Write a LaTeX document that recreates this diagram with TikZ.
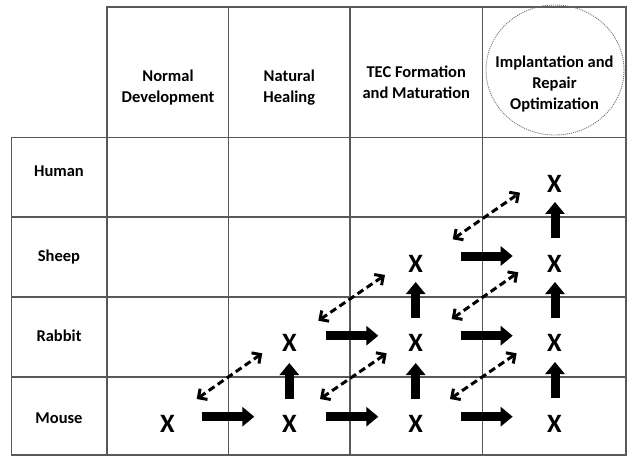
\documentclass[tikz,border=0pt]{standalone}
\usepackage{fontspec}
\setmainfont{Carlito}
\usetikzlibrary{arrows.meta}
\begin{document}
\begin{tikzpicture}[x=1pt,y=-1pt,
  gridline/.style={draw=black!65, line width=1.5pt},
  head/.style={font=\fontsize{16.5}{21}\selectfont\bfseries, align=center, inner sep=0pt},
  rowlabel/.style={font=\fontsize{16.5}{20}\selectfont\bfseries, inner sep=0pt, anchor=base},
  xmark/.style={font=\fontsize{26.5}{30}\selectfont\bfseries, inner sep=0pt},
  fatarrow/.style={line width=9pt, -{Triangle[length=12pt,width=19pt]}},
  linkarrow/.style={line width=3pt, dash pattern=on 7pt off 4pt,
    {Straight Barb[length=6.5pt,width=13pt]}-{Straight Barb[length=6.5pt,width=13pt]}},
]
\useasboundingbox (0,0) rectangle (629,457);

% table frame
\draw[gridline] (107,7) rectangle (626,455);
\draw[gridline] (11.5,137.5) rectangle (107,455);
\foreach \x in {228.5,350,482.5} \draw[gridline] (\x,7) -- (\x,455);
\foreach \y in {137.5,217,297,377} \draw[gridline] (11.5,\y) -- (626,\y);

% highlight around the last stage
\draw[black!55, line width=0.9pt, dash pattern=on 1pt off 1pt] (555,70) ellipse [x radius=69, y radius=65];

% column headers
\node[head] (hnd) at (168,87.5) {Normal\\Development};
\node[head] (hnh) at (289.25,87.5) {Natural\\Healing};
\node[head] (htec) at (416.25,82) {TEC Formation\\and Maturation};
\node[head] (himp) at (554.5,84) {Implantation and\\Repair\\Optimization};

% row labels
\node[rowlabel] (lhuman) at (59,177) {Human};
\node[rowlabel] (lsheep) at (59,261.5) {Sheep};
\node[rowlabel] (lrabbit) at (59,341.5) {Rabbit};
\node[rowlabel] (lmouse) at (59,423) {Mouse};

% study marks
\node[xmark] (m1) at (167.5,423.7) {X};
\node[xmark] (m2) at (289.3,423.7) {X};
\node[xmark] (m3) at (415.7,423.7) {X};
\node[xmark] (m4) at (554.5,423.7) {X};
\node[xmark] (r2) at (289.3,343.3) {X};
\node[xmark] (r3) at (415.7,343.3) {X};
\node[xmark] (r4) at (554.5,343.3) {X};
\node[xmark] (s3) at (415.7,264.3) {X};
\node[xmark] (s4) at (554.5,264.3) {X};
\node[xmark] (h4) at (554.5,184) {X};

% arrow end points
\coordinate (ma1) at (201.7,416.7); \coordinate (mb1) at (254.3,416.7);
\coordinate (ma2) at (325.7,416.7); \coordinate (mb2) at (378.3,416.7);
\coordinate (ma3) at (460.7,416.7); \coordinate (mb3) at (512.7,416.7);
\coordinate (ra2) at (325.7,335.7); \coordinate (rb2) at (378.3,335.7);
\coordinate (ra3) at (460.7,335.7); \coordinate (rb3) at (512.7,335.7);
\coordinate (sa3) at (460.7,256);   \coordinate (sb3) at (512.7,256);
\coordinate (ua2) at (289.3,399);   \coordinate (ub2) at (289.3,363);
\coordinate (ua3) at (415.7,399);   \coordinate (ub3) at (415.7,363);
\coordinate (ua4) at (555,398);     \coordinate (ub4) at (555,362);
\coordinate (va3) at (415.7,318.3); \coordinate (vb3) at (415.7,282);
\coordinate (va4) at (555,318.3);   \coordinate (vb4) at (555,282);
\coordinate (wa4) at (555,238);     \coordinate (wb4) at (555,202);

% progression to the next stage
\draw[fatarrow] (ma1) -- (mb1);
\draw[fatarrow] (ma2) -- (mb2);
\draw[fatarrow] (ma3) -- (mb3);
\draw[fatarrow] (ra2) -- (rb2);
\draw[fatarrow] (ra3) -- (rb3);
\draw[fatarrow] (sa3) -- (sb3);

% progression to the larger species
\draw[fatarrow] (ua2) -- (ub2);
\draw[fatarrow] (ua3) -- (ub3);
\draw[fatarrow] (ua4) -- (ub4);
\draw[fatarrow] (va3) -- (vb3);
\draw[fatarrow] (va4) -- (vb4);
\draw[fatarrow] (wa4) -- (wb4);

% two-way links across stages and species
\coordinate (da1) at (196.7,399);   \coordinate (db1) at (262.3,353.3);
\coordinate (da2) at (318.3,320.7); \coordinate (db2) at (385,275);
\coordinate (da3) at (320,399);     \coordinate (db3) at (386.7,353.3);
\coordinate (da4) at (452.7,239.3); \coordinate (db4) at (520,192.7);
\coordinate (da5) at (451.7,319);   \coordinate (db5) at (518.3,272.3);
\coordinate (da6) at (450,399);     \coordinate (db6) at (516.7,353.3);
\foreach \i in {1,...,6} \draw[linkarrow] (da\i) -- (db\i);
\end{tikzpicture}
\end{document}
